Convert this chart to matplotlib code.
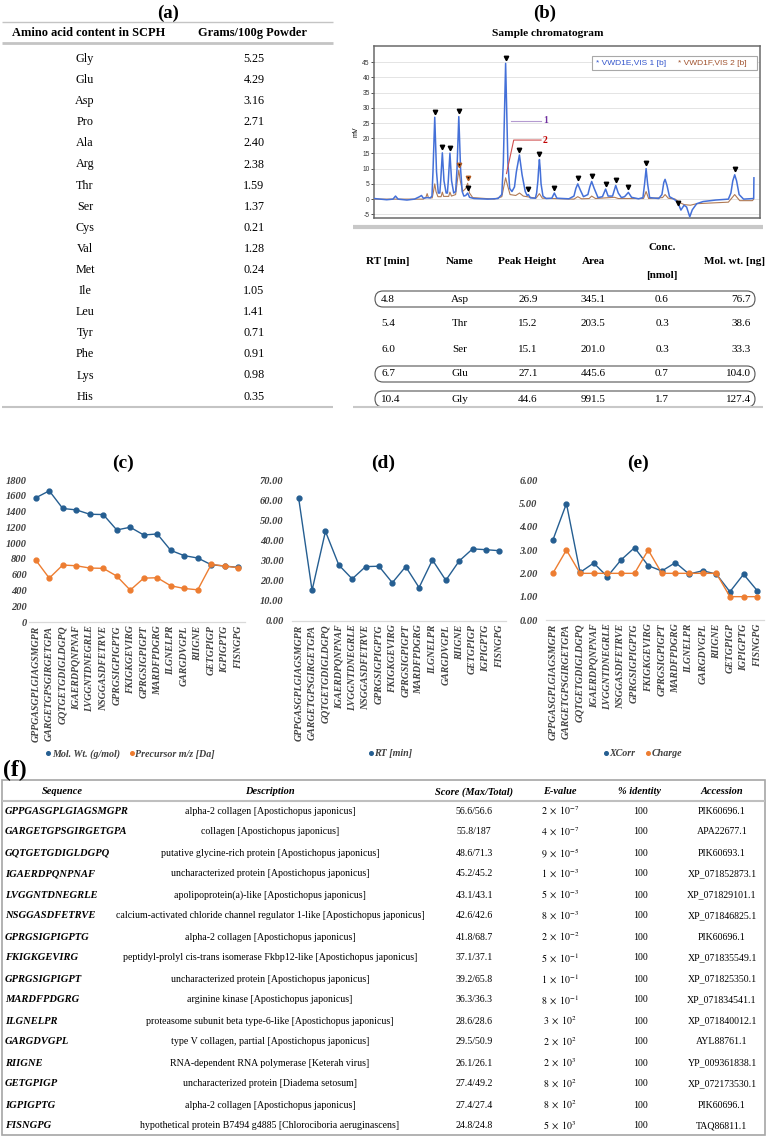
import matplotlib
matplotlib.use('Agg')
import matplotlib.pyplot as plt
from matplotlib.patches import FancyBboxPatch, Rectangle
from matplotlib.lines import Line2D

plt.rcParams['font.family'] = ['Liberation Serif', 'DejaVu Serif']
plt.rcParams['mathtext.fontset'] = 'stix'

# ---------------- data ----------------
aa_names = ['Gly', 'Glu', 'Asp', 'Pro', 'Ala', 'Arg', 'Thr', 'Ser', 'Cys', 'Val',
            'Met', 'Ile', 'Leu', 'Tyr', 'Phe', 'Lys', 'His']
aa_grams = ['5.25', '4.29', '3.16', '2.71', '2.40', '2.38', '1.59', '1.37', '0.21',
            '1.28', '0.24', '1.05', '1.41', '0.71', '0.91', '0.98', '0.35']

rt_min = ['4.8', '5.4', '6.0', '6.7', '10.4']
rt_name = ['Asp', 'Thr', 'Ser', 'Glu', 'Gly']
rt_height = ['26.9', '15.2', '15.1', '27.1', '44.6']
rt_area = ['345.1', '203.5', '201.0', '445.6', '991.5']
rt_conc = ['0.6', '0.3', '0.3', '0.7', '1.7']
rt_molwt = ['76.7', '38.6', '33.3', '104.0', '127.4']
rt_circled = [0, 3, 4]

# chromatogram traces: (time [min], signal [mV]) vertices
vis1_points = [
    (0.0, 0.2), (1.0, -0.2), (1.5, 0.0), (1.7, 1.0), (1.9, 0.0), (2.6, -0.3),
    (3.2, 0.0), (3.6, 0.8), (3.75, 1.2), (3.9, 0.3), (4.2, 0.5), (4.45, 0.4),
    (4.58, 1.0), (4.66, 9.0), (4.73, 18.0), (4.8, 26.9), (4.87, 18.0), (4.94, 9.0),
    (5.08, 2.0), (5.2, 2.0), (5.27, 6.0), (5.34, 11.0), (5.4, 15.2), (5.46, 11.0),
    (5.53, 6.0), (5.7, 2.0), (5.8, 2.0), (5.87, 6.0), (5.94, 11.0), (6.0, 15.1),
    (6.06, 11.0), (6.13, 6.0), (6.3, 2.0), (6.45, 2.5), (6.56, 10.0), (6.63, 19.0),
    (6.7, 27.1), (6.77, 19.0), (6.84, 10.0), (6.97, 2.5), (7.1, 1.0), (7.25, 1.2),
    (7.4, 2.0), (7.55, 0.6), (7.9, 0.2), (9.0, 0.0), (9.8, 0.2), (10.1, 1.5),
    (10.22, 12.0), (10.31, 28.0), (10.4, 44.6), (10.49, 28.0), (10.58, 12.0),
    (10.72, 3.5), (10.9, 2.5), (11.1, 4.0), (11.25, 9.0), (11.49, 14.5), (11.7, 8.0),
    (11.95, 2.5), (12.1, 1.2), (12.2, 1.5), (12.35, 0.4), (12.75, 0.3), (12.85, 2.0),
    (12.95, 6.0), (13.01, 10.0), (13.07, 13.0), (13.13, 10.0), (13.2, 5.0),
    (13.35, 1.0), (13.6, 0.2), (14.05, 0.3), (14.25, 2.0), (14.45, 0.3), (15.4, 0.1),
    (15.8, 1.0), (15.95, 3.5), (16.1, 5.0), (16.3, 3.0), (16.55, 0.8), (16.9, 1.5),
    (17.05, 4.0), (17.2, 5.8), (17.4, 3.5), (17.7, 0.5), (18.05, 0.8), (18.3, 3.3),
    (18.5, 1.0), (18.85, 1.0), (19.1, 4.5), (19.3, 2.0), (19.55, 0.5), (19.8, 0.8),
    (20.1, 2.2), (20.35, 0.6), (20.9, 0.1), (21.25, 0.5), (21.38, 5.0), (21.5, 10.0),
    (21.62, 5.0), (21.78, 0.5), (22.5, 0.2), (22.75, 1.5), (22.9, 5.5), (23.0, 6.5),
    (23.15, 4.5), (23.35, 0.8), (23.7, 0.0), (24.0, -1.0), (24.25, -3.6), (24.5, -2.0),
    (24.7, -2.6), (24.95, -5.8), (25.15, -3.5), (25.5, -1.5), (26.0, -0.8),
    (27.0, -0.3), (28.0, 0.0), (28.2, 2.0), (28.35, 6.0), (28.5, 8.0), (28.65, 6.0),
    (28.85, 1.5), (29.2, 0.0), (29.95, 0.2), (30.0, 0.2), (30.02, 7.0)]
vis2_points = [
    (0.0, 0.0), (3.9, 0.0), (4.1, 0.6), (4.2, 1.8), (4.3, 0.5), (4.6, 0.4),
    (4.7, 2.5), (4.8, 5.0), (4.9, 2.5), (5.05, 0.8), (5.3, 0.8), (5.4, 2.3),
    (5.5, 0.9), (5.9, 0.9), (6.0, 2.3), (6.12, 1.0), (6.45, 1.5), (6.6, 6.5),
    (6.7, 9.5), (6.82, 6.0), (7.0, 2.5), (7.25, 3.5), (7.4, 5.2), (7.55, 2.0),
    (7.8, 0.5), (9.5, 0.0), (10.1, 0.8), (10.3, 5.0), (10.4, 7.0), (10.52, 5.0),
    (10.75, 1.5), (11.2, 1.2), (11.5, 2.0), (11.8, 1.0), (12.8, 0.3), (13.07, 1.8),
    (13.3, 0.3), (15.8, 0.0), (16.1, 0.8), (16.4, 0.1), (17.0, 0.2), (17.2, 1.0),
    (17.5, 0.2), (19.0, 0.6), (19.3, 0.2), (21.3, 0.2), (21.5, 2.5), (21.7, 0.2),
    (22.8, 0.5), (23.0, 1.5), (23.25, 0.3), (23.8, 0.0), (24.1, -1.0), (24.5, -1.8),
    (25.0, -2.0), (25.5, -1.5), (27.0, -1.2), (28.0, -1.0), (28.5, 1.5), (28.9, -0.5),
    (29.9, -0.5), (30.0, 0.0)]
peak_t = [4.8, 5.4, 6.0, 6.7, 7.4, 10.4, 11.49, 12.2, 13.07, 14.25, 16.1, 17.2,
          18.3, 19.1, 20.1, 21.5, 24.0, 28.5]
peak_mv = [26.9, 15.2, 15.1, 27.1, 2.0, 44.6, 14.5, 1.5, 13.0, 2.0, 5.0, 5.8,
           3.3, 4.5, 2.2, 10.0, -3.0, 8.0]
peak2_t = [6.7, 7.4]
peak2_mv = [9.5, 5.2]

peptides = ['GPPGASGPLGIAGSMGPR', 'GARGETGPSGIRGETGPA', 'GQTGETGDIGLDGPQ',
            'IGAERDPQNPNAF', 'LVGGNTDNEGRLE', 'NSGGASDFETRVE', 'GPRGSIGPIGPTG',
            'FKIGKGEVIRG', 'GPRGSIGPIGPT', 'MARDFPDGRG', 'ILGNELPR', 'GARGDVGPL',
            'RIIGNE', 'GETGPIGP', 'IGPIGPTG', 'FISNGPG']
mol_wt = [1574, 1663, 1439, 1421, 1366, 1362, 1167, 1201, 1103, 1116, 908, 841,
          811, 726, 709, 692]
precursor = [785, 556, 722, 713, 684, 680, 582, 404, 556, 561, 459, 425, 408,
             730, 709, 688]
rt_pep = [60.9, 15.2, 44.5, 27.8, 20.9, 27.0, 27.2, 19.0, 27.0, 16.6, 30.3, 20.2,
          29.8, 35.8, 35.4, 34.9]
xcorr = [3.42, 4.99, 2.04, 2.44, 1.86, 2.57, 3.10, 2.33, 2.10, 2.46, 1.97, 2.11,
         1.97, 1.21, 1.96, 1.26]
charge = [2, 3, 2, 2, 2, 2, 2, 3, 2, 2, 2, 2, 2, 1, 1, 1]

descriptions = ['alpha-2 collagen [Apostichopus japonicus]',
                'collagen [Apostichopus japonicus]',
                'putative glycine-rich protein [Apostichopus japonicus]',
                'uncharacterized protein [Apostichopus japonicus]',
                'apolipoprotein(a)-like [Apostichopus japonicus]',
                'calcium-activated chloride channel regulator 1-like [Apostichopus japonicus]',
                'alpha-2 collagen [Apostichopus japonicus]',
                'peptidyl-prolyl cis-trans isomerase Fkbp12-like [Apostichopus japonicus]',
                'uncharacterized protein [Apostichopus japonicus]',
                'arginine kinase [Apostichopus japonicus]',
                'proteasome subunit beta type-6-like [Apostichopus japonicus]',
                'type V collagen, partial [Apostichopus japonicus]',
                'RNA-dependent RNA polymerase [Keterah virus]',
                'uncharacterized protein [Diadema setosum]',
                'alpha-2 collagen [Apostichopus japonicus]',
                'hypothetical protein B7494 g4885 [Chlorociboria aeruginascens]']
scores = ['56.6/56.6', '55.8/187', '48.6/71.3', '45.2/45.2', '43.1/43.1', '42.6/42.6',
          '41.8/68.7', '37.1/37.1', '39.2/65.8', '36.3/36.3', '28.6/28.6', '29.5/50.9',
          '26.1/26.1', '27.4/49.2', '27.4/27.4', '24.8/24.8']
e_mant = [2, 4, 9, 1, 5, 8, 2, 5, 1, 8, 3, 2, 2, 8, 8, 5]
e_exp = [-7, -7, -5, -3, -3, -3, -2, -1, -1, -1, 2, 2, 3, 2, 2, 3]
identity = [100, 100, 100, 100, 100, 100, 100, 100, 100, 100, 100, 100, 100, 100, 100, 100]
accession = ['PIK60696.1', 'APA22677.1', 'PIK60693.1', 'XP_071852873.1',
             'XP_071829101.1', 'XP_071846825.1', 'PIK60696.1', 'XP_071835549.1',
             'XP_071825350.1', 'XP_071834541.1', 'XP_071840012.1', 'AYL88761.1',
             'YP_009361838.1', 'XP_072173530.1', 'PIK60696.1', 'TAQ86811.1']

# ---------------- figure ----------------
W, H = 767, 1139
fig = plt.figure(figsize=(W / 100, H / 100), dpi=100)
ov = fig.add_axes([0, 0, 1, 1])
ov.set_xlim(0, W)
ov.set_ylim(H, 0)
ov.axis('off')

BLUE = '#255E91'
ORANGE = '#ED7D31'
GREY = '#404040'


def T(x, y, s, ha='center', size=8, weight='normal', style='normal', color='black', **kw):
    ov.text(x, y, s, ha=ha, va='center', fontsize=size, fontweight=weight,
            fontstyle=style, color=color, **kw)


def hline(y, x0, x1, color='#c4c4c4', lw=1.0):
    ov.plot([x0, x1], [y, y], color=color, lw=lw, solid_capstyle='butt')


def px_axes(l, t, r, b):
    return fig.add_axes([l / W, 1 - b / H, (r - l) / W, (b - t) / H])


# ---------- (a) table ----------
T(168, 13, '(a)', size=13.5, weight='bold')
hline(22, 2, 333, lw=1.0)
T(89, 33, 'Amino acid content in SCPH', weight='bold', size=8.9)
T(252, 33, 'Grams/100g Powder', weight='bold', size=8.9)
hline(43, 2, 333, lw=2.0)
for i, (n, g) in enumerate(zip(aa_names, aa_grams)):
    y = 59 + 21.1 * i
    T(85, y, n, size=8.7)
    T(254, y, g, size=8.7)
hline(407, 2, 333, lw=1.5)

# ---------- (b) chromatogram ----------
T(545, 13, '(b)', size=13.5, weight='bold')
T(548, 33, 'Sample chromatogram', weight='bold', size=8.2)
axc = px_axes(374, 46, 760, 218)
axc.plot([p[0] for p in vis2_points], [p[1] for p in vis2_points],
         color='#b07a55', lw=0.8, zorder=3)
axc.plot([p[0] for p in vis1_points], [p[1] for p in vis1_points],
         color='#4470d8', lw=1.1, zorder=4)
axc.plot(peak_t, [v + 1.8 for v in peak_mv], ls='', marker='v', ms=3.2,
         color='black', zorder=5)
axc.plot(peak2_t, [v + 1.8 for v in peak2_mv], ls='', marker='v', ms=3.2,
         mfc='black', mec='#b05a20', zorder=5)
axc.set_xlim(0, 30.5)
axc.set_ylim(-6.2, 50.3)
mv_ticks = [-5, 0, 5, 10, 15, 20, 25, 30, 35, 40, 45]
axc.set_yticks(mv_ticks)
axc.set_yticklabels([str(v) for v in mv_ticks], family='Liberation Sans', fontsize=4.8)
axc.set_xticks([])
axc.tick_params(axis='y', length=2, pad=1, width=0.6, colors='#333333')
axc.grid(axis='y', color='#e4e4e4', lw=0.7)
axc.set_axisbelow(True)
for s in axc.spines.values():
    s.set_color('#6a6a6a')
    s.set_linewidth(1.1)
axc.set_ylabel('mV', family='Liberation Sans', fontsize=5, labelpad=2)
# peak annotations
axc.plot([10.86, 13.2], [25.7, 25.7], color='#b49ad0', lw=0.8, zorder=6)
axc.text(13.35, 25.7, '1', color='#7030a0', fontsize=7, fontweight='bold',
         va='center', ha='left', zorder=6)
axc.plot([10.47, 11.04, 13.2], [8.4, 19.4, 19.4], color='#d05050', lw=0.8, zorder=6)
axc.text(13.35, 19.4, '2', color='#c00000', fontsize=7, fontweight='bold',
         va='center', ha='left', zorder=6)
# legend box
axc.add_patch(Rectangle((0.565, 0.86), 0.427, 0.082, transform=axc.transAxes,
                        fc='white', ec='#a8a8a8', lw=0.8, zorder=7))
axc.text(0.575, 0.901, '* VWD1E,VIS 1 [b]', transform=axc.transAxes, color='#3355cc',
         family='Liberation Sans', fontsize=6, va='center', ha='left', zorder=8)
axc.text(0.787, 0.901, '* VWD1F,VIS 2 [b]', transform=axc.transAxes, color='#a0522d',
         family='Liberation Sans', fontsize=6, va='center', ha='left', zorder=8)

# ---------- (b) table ----------
hline(227, 353, 763, color='#c8c8c8', lw=3.0)
T(366, 261, 'RT [min]', ha='left', weight='bold', size=8)
T(460, 261, 'Name', weight='bold', size=8)
T(527, 261, 'Peak Height', weight='bold', size=8)
T(593, 261, 'Area', weight='bold', size=8)
T(662, 248, 'Conc.', weight='bold', size=8)
T(662, 275, '[nmol]', weight='bold', size=8)
T(735, 261, 'Mol. wt. [ng]', weight='bold', size=8)
for i in range(len(rt_min)):
    y = 299 + 25 * i
    T(381, y, rt_min[i], ha='left', size=8)
    T(460, y, rt_name[i], size=8)
    T(528, y, rt_height[i], size=8)
    T(593, y, rt_area[i], size=8)
    T(662, y, rt_conc[i], size=8)
    T(751, y, rt_molwt[i], ha='right', size=8)
    if i in rt_circled:
        ov.add_patch(FancyBboxPatch((375, y - 8), 380, 16,
                                    boxstyle='round,pad=0,rounding_size=8',
                                    fc='none', ec='#555555', lw=0.8))
hline(407, 353, 763, color='#c8c8c8', lw=1.5)

# ---------- (c), (d), (e) ----------
def style_chart(ax, ylim, yticks, labels, pad):
    ax.set_xlim(-0.5, 15.5)
    ax.set_ylim(*ylim)
    for s in ['top', 'right', 'left']:
        ax.spines[s].set_visible(False)
    ax.spines['bottom'].set_color('#d9d9d9')
    ax.spines['bottom'].set_linewidth(0.9)
    ax.set_yticks(yticks)
    ax.set_yticklabels(labels, fontweight='bold', fontstyle='italic', fontsize=7.5,
                       color=GREY)
    ax.tick_params(axis='y', length=0, pad=pad)
    ax.set_xticks(range(len(peptides)))
    ax.set_xticklabels(peptides, rotation=90, fontsize=7.1, fontweight='bold',
                       fontstyle='italic', color=GREY)
    ax.tick_params(axis='x', length=0, pad=2.5)
    ax.patch.set_alpha(0)


def legend(ax, items, x, y):
    handles = [Line2D([], [], ls='', marker='o', ms=2.6, color=c, label=l) for l, c in items]
    ax.legend(handles=handles, loc='center', bbox_to_anchor=(x, y), ncol=len(items),
              frameon=False, handlelength=0.4, handletextpad=0.15, columnspacing=1.0,
              borderaxespad=0, labelcolor=GREY,
              prop=dict(family='Liberation Serif', weight='bold', style='italic', size=7.2))


xs = list(range(len(peptides)))

T(123, 463, '(c)', size=14, weight='bold')
ax1 = px_axes(29, 480, 245, 622)
ax1.plot(xs, mol_wt, color=BLUE, marker='o', ms=3.5, lw=1.0)
ax1.plot(xs, precursor, color=ORANGE, marker='o', ms=3.5, lw=1.0)
t1 = list(range(0, 1801, 200))
style_chart(ax1, (0, 1800), t1, [str(v) for v in t1], 1.5)
legend(ax1, [('Mol. Wt. (g/mol)', BLUE), ('Precursor m/z [Da]', ORANGE)], 0.47, -0.93)

T(383, 463, '(d)', size=14, weight='bold')
ax2 = px_axes(292, 480, 506, 621)
ax2.plot(xs, rt_pep, color=BLUE, marker='o', ms=3.5, lw=1.0)
t2 = list(range(0, 71, 10))
style_chart(ax2, (0, 70), t2, ['%.2f' % v for v in t2], 6)
legend(ax2, [('RT [min]', BLUE)], 0.46, -0.94)

T(638, 463, '(e)', size=14, weight='bold')
ax3 = px_axes(546, 480, 764, 620)
ax3.plot(xs, xcorr, color=BLUE, marker='o', ms=3.5, lw=1.0)
ax3.plot(xs, charge, color=ORANGE, marker='o', ms=3.5, lw=1.0)
t3 = list(range(0, 7))
style_chart(ax3, (0, 6), t3, ['%.2f' % v for v in t3], 6)
legend(ax3, [('XCorr', BLUE), ('Charge', ORANGE)], 0.445, -0.957)

# ---------- (f) table ----------
T(3, 770, '(f)', ha='left', size=17, weight='bold')
ov.add_patch(Rectangle((2, 780), 763, 355, fc='none', ec='#a6a6a6', lw=1.2))
hdr_y = 792
T(62, hdr_y, 'Sequence', weight='bold', style='italic', size=7.5)
T(270, hdr_y, 'Description', weight='bold', style='italic', size=7.5)
T(474, hdr_y, 'Score (Max/Total)', weight='bold', style='italic', size=7.5)
T(560, hdr_y, 'E-value', weight='bold', style='italic', size=7.5)
T(640, hdr_y, '% identity', weight='bold', style='italic', size=7.5)
T(722, hdr_y, 'Accession', weight='bold', style='italic', size=7.5)
hline(801, 2, 765, color='#bfbfbf', lw=1.5)
for i in range(len(peptides)):
    y = 811 + 21 * i
    T(5, y, peptides[i], ha='left', weight='bold', style='italic', size=7.6)
    T(270, y, descriptions[i], size=7.1)
    T(474, y, scores[i], size=7.1)
    T(560, y, r'$%d\ \times\ 10^{%d}$' % (e_mant[i], e_exp[i]), size=7.1)
    T(640, y, str(identity[i]), size=7.1)
    T(722, y, accession[i], size=7.1)

fig.savefig('out.png', dpi=100)
